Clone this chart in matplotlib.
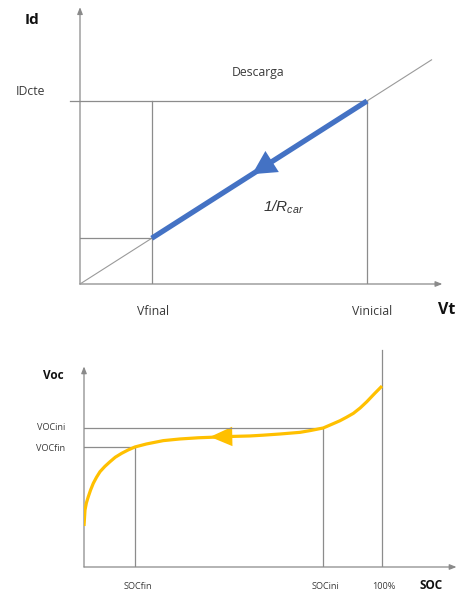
import matplotlib
matplotlib.use("Agg")
import matplotlib.pyplot as plt
from matplotlib.patches import FancyArrowPatch

# ---- discharge line (terminal voltage vs. current) ----
v_final = 1.0
v_inicial = 4.0
id_cte = 4.0
r_car = 1.0
diag_v = [0.0, 4.9]                      # grey load line  I = V / R
blue_v = [v_final, v_inicial]            # discharge segment

# ---- open circuit voltage vs. state of charge ----
soc = [0.0, 0.34, 0.8, 1.44, 2.2, 3.12, 4.2, 5.37, 7.0, 8.72, 10.5, 12.65, 14.8,
       17.1, 21.0, 26.6, 32.2, 38.4, 45.0, 50.0, 55.7, 60.0, 65.8, 72.5, 76.0,
       80.3, 83.0, 85.9, 88.0, 90.4, 92.7, 94.9, 97.5, 100.0]
voc = [3.272, 3.378, 3.425, 3.466, 3.51, 3.555, 3.595, 3.632, 3.667, 3.698, 3.728,
       3.754, 3.776, 3.796, 3.816, 3.838, 3.849, 3.857, 3.862, 3.866, 3.869, 3.874,
       3.882, 3.893, 3.905, 3.922, 3.945, 3.970, 3.992, 4.019, 4.055, 4.096, 4.15,
       4.20]
soc_fin, voc_fin = 17.1, 3.796
soc_ini, voc_ini = 80.3, 3.922

W, H = 458, 592
fig = plt.figure(figsize=(W / 100, H / 100), dpi=100)
plt.rcParams["font.family"] = ["Open Sans", "DejaVu Sans"]
# the 1/R_car label is set fully in italic sans
plt.rcParams["mathtext.fontset"] = "custom"
plt.rcParams["mathtext.rm"] = "Liberation Sans:italic"
plt.rcParams["mathtext.it"] = "Liberation Sans:italic"

GREY = "#8c8c8c"
AXC = "#8a8a8a"
TXT = "#3a3a3a"
BLUE = "#4472C4"
GOLD = "#FFC000"

# top panel: origin at pixel (80, 284)
sx1, sy1 = 71.75, 45.75
x0, y0 = 80, 284
xl1, yl1 = (0, 5.2), (0, 6.15)
ax1 = fig.add_axes([x0 / W, (H - y0) / H, (xl1[1] * sx1) / W, (yl1[1] * sy1) / H])
ax1.set_xlim(*xl1)
ax1.set_ylim(*yl1)
ax1.axis("off")

def axis_arrow(ax, start, end):
    ax.add_patch(FancyArrowPatch(start, end, arrowstyle="-|>,head_length=4,head_width=1.6",
                                 mutation_scale=1, color=AXC, lw=0.9, clip_on=False,
                                 shrinkA=0, shrinkB=0))

axis_arrow(ax1, (0, 0), (0, 6.05))
axis_arrow(ax1, (0, 0), (5.05, 0))

ax1.plot(diag_v, [v / r_car for v in diag_v], color="#9a9a9a", lw=0.8, clip_on=False)
ax1.plot([-0.14, v_inicial], [id_cte, id_cte], color=GREY, lw=0.9, clip_on=False)
ax1.plot([v_final, v_final], [0, id_cte], color=GREY, lw=0.9)
ax1.plot([v_inicial, v_inicial], [0, id_cte], color=GREY, lw=0.9)
ax1.plot([0, v_final], [v_final / r_car, v_final / r_car], color=GREY, lw=0.9)
ax1.plot(blue_v, [v / r_car for v in blue_v], color=BLUE, lw=3.8, solid_capstyle="butt")
ax1.add_patch(FancyArrowPatch((2.75, 2.75), (2.40, 2.40),
                              arrowstyle="-|>,head_length=17,head_width=9",
                              mutation_scale=1, color=BLUE, lw=0, shrinkA=0, shrinkB=0))

ax1.text(-0.67, 5.77, "Id", fontsize=11, fontweight="bold", color="#111111",
         ha="center", va="center")
ax1.text(-0.69, 4.2, "IDcte", fontsize=8.8, color=TXT, ha="center", va="center")
ax1.text(2.48, 4.63, "Descarga", fontsize=8.8, color=TXT, ha="center", va="center")
ax1.text(2.83, 1.68, r"$1/R_{car}$", fontsize=11, color="#333333",
         ha="center", va="center")
ax1.text(v_final + 0.02, -0.6, "Vfinal", fontsize=8.8, color=TXT, ha="center", va="center")
ax1.text(v_inicial + 0.07, -0.6, "Vinicial", fontsize=8.8, color=TXT, ha="center", va="center")
ax1.text(5.11, -0.57, "Vt", fontsize=11.5, fontweight="bold", color="#111111",
         ha="center", va="center")

# bottom panel: origin at pixel (84, 567)
sx2, sy2 = 2.98, 150.8
x0b, y0b = 84, 567
xl2, yl2 = (0, 125.2), (3.0, 4.45)
ax2 = fig.add_axes([x0b / W, (H - y0b) / H, (xl2[1] - xl2[0]) * sx2 / W,
                    (yl2[1] - yl2[0]) * sy2 / H])
ax2.set_xlim(*xl2)
ax2.set_ylim(*yl2)
ax2.axis("off")

axis_arrow(ax2, (0, 3.0), (0, 4.33))
axis_arrow(ax2, (0, 3.0), (125, 3.0))

ax2.plot([100, 100], [3.0, 4.44], color=GREY, lw=0.9)
ax2.plot([0, soc_ini], [voc_ini, voc_ini], color=GREY, lw=0.9)
ax2.plot([soc_ini, soc_ini], [3.0, voc_ini], color=GREY, lw=0.9)
ax2.plot([0, soc_fin], [voc_fin, voc_fin], color=GREY, lw=0.9)
ax2.plot([soc_fin, soc_fin], [3.0, voc_fin], color=GREY, lw=0.9)
ax2.plot(soc, voc, color=GOLD, lw=2.3, solid_joinstyle="round", solid_capstyle="butt")
ax2.add_patch(FancyArrowPatch((50.5, 3.866), (42.3, 3.863),
                              arrowstyle="-|>,head_length=16,head_width=7",
                              mutation_scale=1, color=GOLD, lw=0, shrinkA=0, shrinkB=0))

ax2.text(-10.4, 4.27, "Voc", fontsize=8.5, fontweight="bold", color="#111111",
         ha="center", va="center")
ax2.text(-6.4, voc_ini, "VOCini", fontsize=6.6, color=TXT, ha="right", va="center")
ax2.text(-6.4, 3.785, "VOCfin", fontsize=6.6, color=TXT, ha="right", va="center")
ax2.text(soc_fin + 1, 2.874, "SOCfin", fontsize=6.6, color=TXT, ha="center", va="center")
ax2.text(soc_ini + 0.7, 2.868, "SOCini", fontsize=6.6, color=TXT, ha="center", va="center")
ax2.text(100.7, 2.868, "100%", fontsize=6.6, color=TXT, ha="center", va="center")
ax2.text(116.4, 2.88, "SOC", fontsize=8.5, fontweight="bold", color="#111111",
         ha="center", va="center")

fig.savefig("out.png", dpi=100)
